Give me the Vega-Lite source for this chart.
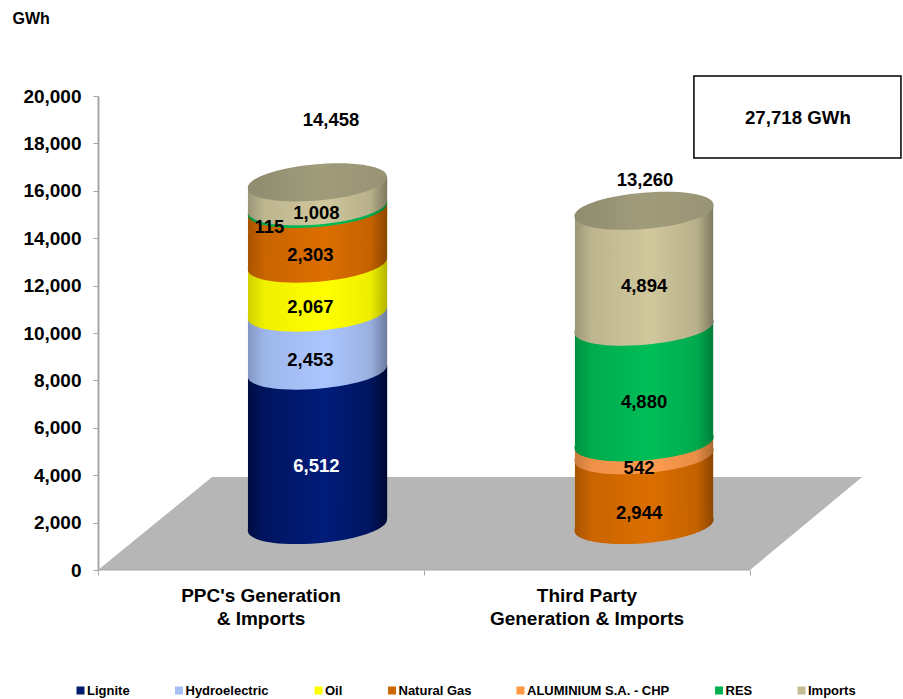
{
  "$schema": "https://vega.github.io/schema/vega-lite/v6.json",
  "width": 805,
  "height": 474,
  "autosize": {"type": "none"},
  "padding": {"left": 98, "top": 96, "right": 0, "bottom": 129},
  "background": "white",
  "config": {"view": {"stroke": null}, "font": "Liberation Sans"},
  "datasets": {
    "segments": [
      {"cylinder": "PPC", "series": "Lignite", "rank": 1, "value": 6512, "pos": 0.673},
      {"cylinder": "PPC", "series": "Hydroelectric", "rank": 2, "value": 2453, "pos": 0.673},
      {"cylinder": "PPC", "series": "Oil", "rank": 3, "value": 2067, "pos": 0.673},
      {"cylinder": "PPC", "series": "Natural Gas", "rank": 4, "value": 2303, "pos": 0.673},
      {"cylinder": "PPC", "series": "RES", "rank": 6, "value": 115, "pos": 0.673},
      {"cylinder": "PPC", "series": "Imports", "rank": 7, "value": 1008, "pos": 0.673},
      {"cylinder": "Third", "series": "Natural Gas", "rank": 4, "value": 2944, "pos": 1.675},
      {"cylinder": "Third", "series": "ALUMINIUM S.A. - CHP", "rank": 5, "value": 542, "pos": 1.675},
      {"cylinder": "Third", "series": "RES", "rank": 6, "value": 4880, "pos": 1.675},
      {"cylinder": "Third", "series": "Imports", "rank": 7, "value": 4894, "pos": 1.675}
    ],
    "sides": [
      {"seg": "p1", "series": "Lignite", "x": 0.46, "low": -253, "high": 6259},
      {"seg": "p1", "series": "Lignite", "x": 0.887, "low": 253, "high": 6765},
      {"seg": "p2", "series": "Hydroelectric", "x": 0.46, "low": 6259, "high": 8712},
      {"seg": "p2", "series": "Hydroelectric", "x": 0.887, "low": 6765, "high": 9218},
      {"seg": "p3", "series": "Oil", "x": 0.46, "low": 8712, "high": 10779},
      {"seg": "p3", "series": "Oil", "x": 0.887, "low": 9218, "high": 11285},
      {"seg": "p4", "series": "Natural Gas", "x": 0.46, "low": 10779, "high": 13082},
      {"seg": "p4", "series": "Natural Gas", "x": 0.887, "low": 11285, "high": 13588},
      {"seg": "p5", "series": "RES", "x": 0.46, "low": 13082, "high": 13197},
      {"seg": "p5", "series": "RES", "x": 0.887, "low": 13588, "high": 13703},
      {"seg": "p6", "series": "Imports", "x": 0.46, "low": 13197, "high": 14205},
      {"seg": "p6", "series": "Imports", "x": 0.887, "low": 13703, "high": 14711},
      {"seg": "t1", "series": "Natural Gas", "x": 1.463, "low": -253, "high": 2691},
      {"seg": "t1", "series": "Natural Gas", "x": 1.887, "low": 253, "high": 3197},
      {"seg": "t2", "series": "ALUMINIUM S.A. - CHP", "x": 1.463, "low": 2691, "high": 3233},
      {"seg": "t2", "series": "ALUMINIUM S.A. - CHP", "x": 1.887, "low": 3197, "high": 3739},
      {"seg": "t3", "series": "RES", "x": 1.463, "low": 3233, "high": 8113},
      {"seg": "t3", "series": "RES", "x": 1.887, "low": 3739, "high": 8619},
      {"seg": "t4", "series": "Imports", "x": 1.463, "low": 8113, "high": 13007},
      {"seg": "t4", "series": "Imports", "x": 1.887, "low": 8619, "high": 13513}
    ],
    "totals": [
      {"cylinder": "PPC", "total": 14458, "pos": 0.673, "labelPos": 0.715},
      {"cylinder": "Third", "total": 13260, "pos": 1.675, "labelPos": 1.678}
    ],
    "floor": [
      {"x": 0, "back": 0, "front": 0},
      {"x": 0.35, "back": 3924, "front": 0},
      {"x": 2, "back": 3924, "front": 0},
      {"x": 2.344, "back": 3924, "front": 3924}
    ],
    "categories": [
      {"name": "PPC's Generation\n& Imports", "x": 0.5, "y": 0},
      {"name": "Third Party\nGeneration & Imports", "x": 1.5, "y": 0}
    ],
    "box": [
      {"x0": 1.828, "x1": 2.463, "y0": 17384, "y1": 20844, "xm": 2.147, "ym": 19070, "label": "27,718 GWh"}
    ]
  },
  "data": {"name": "segments"},
  "transform": [
    {"stack": "value", "groupby": ["cylinder"], "sort": [{"field": "rank", "order": "ascending"}], "as": ["lo", "hi"]},
    {"calculate": "(datum.lo + datum.hi) / 2", "as": "mid"}
  ],
  "layer": [
    {
      "data": {"name": "floor"},
      "mark": {"type": "area", "fill": "#b6b6b6", "stroke": null},
      "encoding": {
        "x": {
          "field": "x", "type": "quantitative",
          "scale": {"domain": [0, 2.4693], "nice": false, "zero": false},
          "axis": {"values": [0, 1, 2], "labels": false, "title": null, "grid": false, "domain": false, "tickSize": 5, "tickColor": "#a6a6a6", "tickWidth": 1}
        },
        "y": {
          "field": "back", "type": "quantitative", "stack": null,
          "scale": {"domain": [0, 20000], "nice": false},
          "axis": {
            "values": [0, 2000, 4000, 6000, 8000, 10000, 12000, 14000, 16000, 18000, 20000],
            "labelExpr": "format(datum.value, ',')", "grid": false, "title": "GWh", "titleAngle": 0, "titleX": -86, "titleY": -78,
            "titleAlign": "left", "titleBaseline": "middle", "titleFontSize": 16, "titleFontWeight": "bold", "titleColor": "black",
            "labelFontSize": 19, "labelFontWeight": "bold", "labelColor": "black", "labelPadding": 12,
            "tickSize": 5, "tickColor": "#a6a6a6", "domainColor": "#a6a6a6", "domainWidth": 2
          }
        },
        "y2": {"field": "front"}
      }
    },
    {
      "data": {"values": [{"from": 0, "to": 2, "level": 0}]},
      "mark": {"type": "rule", "color": "#a6a6a6", "strokeWidth": 1},
      "encoding": {
        "x": {"field": "from", "type": "quantitative"},
        "x2": {"field": "to"},
        "y": {"field": "level", "type": "quantitative"}
      }
    },
    {
      "data": {"name": "sides"},
      "mark": {"type": "area", "yOffset": -45, "y2Offset": -45},
      "encoding": {
        "x": {"field": "x", "type": "quantitative"},
        "y": {"field": "high", "type": "quantitative", "stack": null},
        "y2": {"field": "low"},
        "detail": {"field": "seg"},
        "fill": {
          "condition": [
            {"test": "datum.series === 'Lignite'", "value": {"gradient": "linear", "x1": 0, "y1": 0, "x2": 1, "y2": 0, "stops": [{"offset": 0, "color": "#000c40"}, {"offset": 0.12, "color": "#001560"}, {"offset": 0.55, "color": "#001c7a"}, {"offset": 0.88, "color": "#001560"}, {"offset": 1, "color": "#000830"}]}},
            {"test": "datum.series === 'Hydroelectric'", "value": {"gradient": "linear", "x1": 0, "y1": 0, "x2": 1, "y2": 0, "stops": [{"offset": 0, "color": "#8498c4"}, {"offset": 0.12, "color": "#9db6ea"}, {"offset": 0.55, "color": "#abc6ff"}, {"offset": 0.88, "color": "#9ab0e0"}, {"offset": 1, "color": "#6c7c9e"}]}},
            {"test": "datum.series === 'Oil'", "value": {"gradient": "linear", "x1": 0, "y1": 0, "x2": 1, "y2": 0, "stops": [{"offset": 0, "color": "#d0d000"}, {"offset": 0.12, "color": "#f0f000"}, {"offset": 0.55, "color": "#ffff00"}, {"offset": 0.88, "color": "#eeee00"}, {"offset": 1, "color": "#b4b400"}]}},
            {"test": "datum.series === 'Natural Gas'", "value": {"gradient": "linear", "x1": 0, "y1": 0, "x2": 1, "y2": 0, "stops": [{"offset": 0, "color": "#a85400"}, {"offset": 0.12, "color": "#c96400"}, {"offset": 0.55, "color": "#dc6e00"}, {"offset": 0.88, "color": "#c46200"}, {"offset": 1, "color": "#8c4600"}]}},
            {"test": "datum.series === 'ALUMINIUM S.A. - CHP'", "value": {"gradient": "linear", "x1": 0, "y1": 0, "x2": 1, "y2": 0, "stops": [{"offset": 0, "color": "#c87a3e"}, {"offset": 0.12, "color": "#ee9048"}, {"offset": 0.55, "color": "#ff9c50"}, {"offset": 0.88, "color": "#e88c46"}, {"offset": 1, "color": "#aa6830"}]}},
            {"test": "datum.series === 'RES'", "value": {"gradient": "linear", "x1": 0, "y1": 0, "x2": 1, "y2": 0, "stops": [{"offset": 0, "color": "#00903f"}, {"offset": 0.12, "color": "#00ac4e"}, {"offset": 0.55, "color": "#00be58"}, {"offset": 0.88, "color": "#00aa4e"}, {"offset": 1, "color": "#007e38"}]}}
          ],
          "value": {"gradient": "linear", "x1": 0, "y1": 0, "x2": 1, "y2": 0, "stops": [{"offset": 0, "color": "#9a9678"}, {"offset": 0.12, "color": "#bdb58e"}, {"offset": 0.55, "color": "#d0c79c"}, {"offset": 0.88, "color": "#b8b08a"}, {"offset": 1, "color": "#7e7a60"}]}
        }
      }
    },
    {
      "mark": {"type": "point", "filled": true, "opacity": 1, "size": 19321, "yOffset": -45, "shape": "M-1,0.086 A1.004,0.255,-5,1,1,1,-0.086 A1.004,0.255,-5,1,1,-1,0.086 Z"},
      "encoding": {
        "x": {"field": "pos", "type": "quantitative"},
        "y": {"field": "lo", "type": "quantitative"},
        "fill": {
          "condition": [
            {"test": "datum.series === 'Lignite'", "value": {"gradient": "linear", "x1": 0, "y1": 0, "x2": 1, "y2": 0, "stops": [{"offset": 0, "color": "#000c40"}, {"offset": 0.12, "color": "#001560"}, {"offset": 0.55, "color": "#001c7a"}, {"offset": 0.88, "color": "#001560"}, {"offset": 1, "color": "#000830"}]}},
            {"test": "datum.series === 'Hydroelectric'", "value": {"gradient": "linear", "x1": 0, "y1": 0, "x2": 1, "y2": 0, "stops": [{"offset": 0, "color": "#8498c4"}, {"offset": 0.12, "color": "#9db6ea"}, {"offset": 0.55, "color": "#abc6ff"}, {"offset": 0.88, "color": "#9ab0e0"}, {"offset": 1, "color": "#6c7c9e"}]}},
            {"test": "datum.series === 'Oil'", "value": {"gradient": "linear", "x1": 0, "y1": 0, "x2": 1, "y2": 0, "stops": [{"offset": 0, "color": "#d0d000"}, {"offset": 0.12, "color": "#f0f000"}, {"offset": 0.55, "color": "#ffff00"}, {"offset": 0.88, "color": "#eeee00"}, {"offset": 1, "color": "#b4b400"}]}},
            {"test": "datum.series === 'Natural Gas'", "value": {"gradient": "linear", "x1": 0, "y1": 0, "x2": 1, "y2": 0, "stops": [{"offset": 0, "color": "#a85400"}, {"offset": 0.12, "color": "#c96400"}, {"offset": 0.55, "color": "#dc6e00"}, {"offset": 0.88, "color": "#c46200"}, {"offset": 1, "color": "#8c4600"}]}},
            {"test": "datum.series === 'ALUMINIUM S.A. - CHP'", "value": {"gradient": "linear", "x1": 0, "y1": 0, "x2": 1, "y2": 0, "stops": [{"offset": 0, "color": "#c87a3e"}, {"offset": 0.12, "color": "#ee9048"}, {"offset": 0.55, "color": "#ff9c50"}, {"offset": 0.88, "color": "#e88c46"}, {"offset": 1, "color": "#aa6830"}]}},
            {"test": "datum.series === 'RES'", "value": {"gradient": "linear", "x1": 0, "y1": 0, "x2": 1, "y2": 0, "stops": [{"offset": 0, "color": "#00903f"}, {"offset": 0.12, "color": "#00ac4e"}, {"offset": 0.55, "color": "#00be58"}, {"offset": 0.88, "color": "#00aa4e"}, {"offset": 1, "color": "#007e38"}]}}
          ],
          "value": {"gradient": "linear", "x1": 0, "y1": 0, "x2": 1, "y2": 0, "stops": [{"offset": 0, "color": "#9a9678"}, {"offset": 0.12, "color": "#bdb58e"}, {"offset": 0.55, "color": "#d0c79c"}, {"offset": 0.88, "color": "#b8b08a"}, {"offset": 1, "color": "#7e7a60"}]}
        }
      }
    },
    {
      "data": {"name": "totals"},
      "mark": {
        "type": "point", "filled": true, "opacity": 1, "size": 19321, "yOffset": -45,
        "shape": "M-1,0.086 A1.004,0.255,-5,1,1,1,-0.086 A1.004,0.255,-5,1,1,-1,0.086 Z",
        "fill": {"gradient": "linear", "x1": 0, "y1": 0, "x2": 1, "y2": 0, "stops": [{"offset": 0, "color": "#8e8b6f"}, {"offset": 0.5, "color": "#a09c7b"}, {"offset": 1, "color": "#979374"}]}
      },
      "encoding": {
        "x": {"field": "pos", "type": "quantitative"},
        "y": {"field": "total", "type": "quantitative"}
      }
    },
    {
      "transform": [{"filter": "datum.series === 'Lignite' || (datum.cylinder === 'PPC' && datum.series === 'Imports')"}],
      "mark": {"type": "text", "fontSize": 18.5, "fontWeight": "bold", "xOffset": -1, "yOffset": -26.5},
      "encoding": {
        "x": {"field": "pos", "type": "quantitative"},
        "y": {"field": "mid", "type": "quantitative"},
        "text": {"field": "value", "type": "quantitative", "format": ","},
        "color": {"condition": {"test": "datum.series === 'Lignite'", "value": "white"}, "value": "black"}
      }
    },
    {
      "transform": [{"filter": "datum.cylinder === 'Third' && datum.value > 4000"}],
      "mark": {"type": "text", "fontSize": 18.5, "fontWeight": "bold", "yOffset": -28, "color": "black"},
      "encoding": {
        "x": {"field": "pos", "type": "quantitative"},
        "y": {"field": "mid", "type": "quantitative"},
        "text": {"field": "value", "type": "quantitative", "format": ","}
      }
    },
    {
      "transform": [{"filter": "datum.series === 'Hydroelectric' || datum.series === 'Oil' || datum.value === 2303"}],
      "mark": {"type": "text", "fontSize": 18.5, "fontWeight": "bold", "xOffset": -7, "yOffset": -26.5, "color": "black"},
      "encoding": {
        "x": {"field": "pos", "type": "quantitative"},
        "y": {"field": "mid", "type": "quantitative"},
        "text": {"field": "value", "type": "quantitative", "format": ","}
      }
    },
    {
      "transform": [{"filter": "datum.value === 542"}],
      "mark": {"type": "text", "fontSize": 18.5, "fontWeight": "bold", "xOffset": -5, "yOffset": -26, "color": "black"},
      "encoding": {
        "x": {"field": "pos", "type": "quantitative"},
        "y": {"field": "mid", "type": "quantitative"},
        "text": {"field": "value", "type": "quantitative", "format": ","}
      }
    },
    {
      "transform": [{"filter": "datum.value === 2944"}],
      "mark": {"type": "text", "fontSize": 18.5, "fontWeight": "bold", "xOffset": -5, "yOffset": -22, "color": "black"},
      "encoding": {
        "x": {"field": "pos", "type": "quantitative"},
        "y": {"field": "mid", "type": "quantitative"},
        "text": {"field": "value", "type": "quantitative", "format": ","}
      }
    },
    {
      "transform": [{"filter": "datum.value === 115"}],
      "mark": {"type": "text", "fontSize": 18.5, "fontWeight": "bold", "xOffset": -48, "yOffset": -26, "color": "black"},
      "encoding": {
        "x": {"field": "pos", "type": "quantitative"},
        "y": {"field": "mid", "type": "quantitative"},
        "text": {"field": "value", "type": "quantitative", "format": ","}
      }
    },
    {
      "data": {"name": "totals"},
      "transform": [{"filter": "datum.cylinder === 'PPC'"}],
      "mark": {"type": "text", "fontSize": 18.5, "fontWeight": "bold", "yOffset": -107, "color": "black"},
      "encoding": {
        "x": {"field": "labelPos", "type": "quantitative"},
        "y": {"field": "total", "type": "quantitative"},
        "text": {"field": "total", "type": "quantitative", "format": ","}
      }
    },
    {
      "data": {"name": "totals"},
      "transform": [{"filter": "datum.cylinder === 'Third'"}],
      "mark": {"type": "text", "fontSize": 18.5, "fontWeight": "bold", "yOffset": -76, "color": "black"},
      "encoding": {
        "x": {"field": "labelPos", "type": "quantitative"},
        "y": {"field": "total", "type": "quantitative"},
        "text": {"field": "total", "type": "quantitative", "format": ","}
      }
    },
    {
      "data": {"name": "categories"},
      "mark": {"type": "text", "fontSize": 19, "fontWeight": "bold", "color": "black", "lineBreak": "\n", "lineHeight": 23, "baseline": "top", "dy": 17},
      "encoding": {
        "x": {"field": "x", "type": "quantitative"},
        "y": {"field": "y", "type": "quantitative"},
        "text": {"field": "name"}
      }
    },
    {
      "data": {"name": "box"},
      "mark": {"type": "rect", "fill": "white", "stroke": "black", "strokeWidth": 1.5},
      "encoding": {
        "x": {"field": "x0", "type": "quantitative"},
        "x2": {"field": "x1"},
        "y": {"field": "y0", "type": "quantitative"},
        "y2": {"field": "y1"}
      }
    },
    {
      "data": {"name": "box"},
      "mark": {"type": "text", "fontSize": 18.7, "fontWeight": "bold", "color": "black"},
      "encoding": {
        "x": {"field": "xm", "type": "quantitative"},
        "y": {"field": "ym", "type": "quantitative"},
        "text": {"field": "label"}
      }
    },
    {
      "mark": {"type": "point", "filled": true, "opacity": 0, "size": 1},
      "encoding": {
        "x": {"field": "pos", "type": "quantitative"},
        "y": {"field": "lo", "type": "quantitative"},
        "color": {
          "field": "series", "type": "nominal",
          "scale": {
            "domain": ["Lignite", "Hydroelectric", "Oil", "Natural Gas", "ALUMINIUM S.A. - CHP", "RES", "Imports"],
            "range": ["#001a6e", "#a6bff5", "#ffff00", "#cc6600", "#ff9944", "#00b050", "#c4bd97"]
          },
          "legend": {
            "orient": "none", "legendX": -24, "legendY": 588, "direction": "horizontal", "columns": 7,
            "gridAlign": "none", "columnPadding": 42.5, "title": null, "symbolType": "square", "symbolSize": 64,
            "symbolOpacity": 1, "symbolStrokeWidth": 0, "labelFontSize": 13, "labelFontWeight": "bold", "labelColor": "black", "labelOffset": 0
          }
        }
      }
    }
  ]
}
